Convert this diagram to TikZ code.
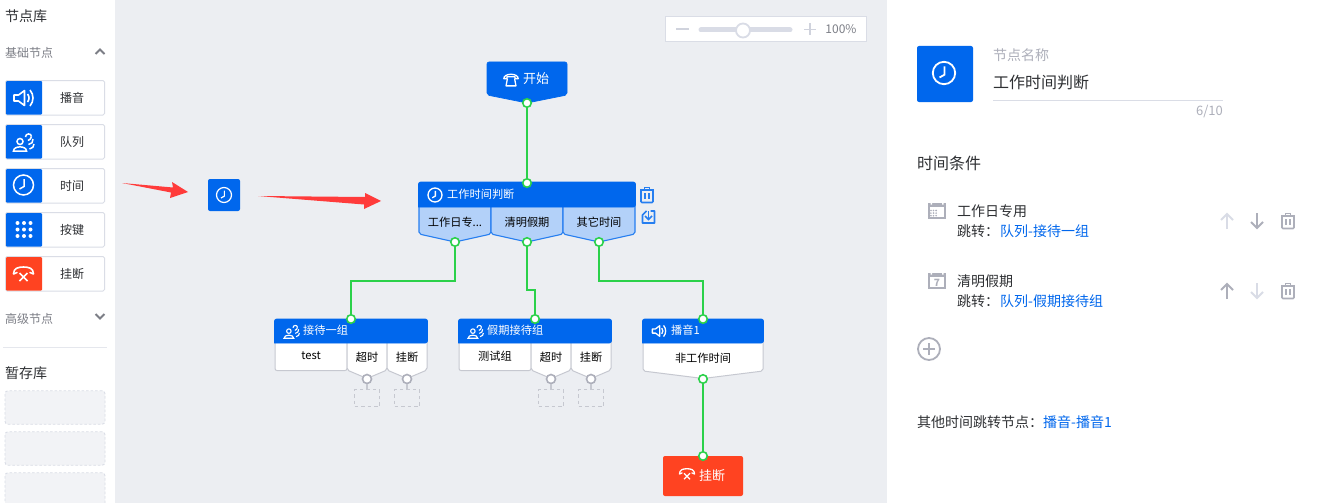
\documentclass[tikz,border=0pt]{standalone}
\usepackage{fontspec}
\setmainfont{Noto Sans CJK SC}
\definecolor{blue1}{HTML}{0067ED}
\definecolor{red1}{HTML}{FF4321}
\definecolor{red2}{HTML}{FF3B3B}
\definecolor{green1}{HTML}{2BD14A}
\definecolor{canvas}{HTML}{ECEEF2}
\definecolor{sect}{HTML}{B3D1F9}
\definecolor{edge1}{HTML}{DADDE6}
\definecolor{edge2}{HTML}{C6C8D0}
\definecolor{icon1}{HTML}{ADAFBA}
\definecolor{icon2}{HTML}{D9DCE6}
\definecolor{txt}{HTML}{2E3033}
\definecolor{txt2}{HTML}{7C7E86}
\tikzset{
	fs/.style = {font=\fontsize{#1}{#1}\selectfont},
	lbl/.style = {inner sep=0pt, text=txt},
	left lbl/.style = {lbl, anchor=west},
	wire/.style = {draw=green1, line width=2pt},
	dot/.style = {draw=green1, fill=white, circle, line width=1.6pt, minimum size=8.5pt, inner sep=0pt},
	greydot/.style = {draw=icon1, fill=white, circle, line width=1.6pt, minimum size=9pt, inner sep=0pt},
	stub/.style = {draw=edge2, line width=1.5pt},
	slot/.style = {draw=edge2, dash pattern=on 3.5pt off 3pt, line width=1.3pt, minimum width=25pt, minimum height=17pt, inner sep=0pt},
	shell/.style = {draw=edge2, fill=white, line width=1pt, rounded corners=2pt},
	section/.style = {draw=blue1!85!white, fill=sect, line width=1.1pt, rounded corners=2pt},
	head/.style = {draw=blue1, fill=blue1, line width=.6pt},
	btn/.style = {draw=edge1, fill=white, line width=1pt, rounded corners=1.5pt},
	store/.style = {draw=edge1, fill=canvas!70!white, dash pattern=on 2.5pt off 2pt, line width=.9pt, rounded corners=3pt, minimum width=100pt, minimum height=33.5pt, inner sep=0pt},
	pointer/.style = {fill=red2},
	clockicon/.pic = {
		\draw (0,0) circle (10);
		\draw (0.5,-6) -- (0.5,1.5) -- (-4,4);
	},
	speakericon/.pic = {
		\draw[line join=round] (-9.5,-3) -- (-5,-3) -- (1,-7.5) -- (1,7.5) -- (-5,3) -- (-9.5,3) -- cycle;
		\draw (4,-4) .. controls (6,-2) and (6,2) .. (4,4);
		\draw (6.5,-8) .. controls (10.5,-3) and (10.5,3) .. (6.5,8);
	},
	peopleicon/.pic = {
		\draw (-3.5,-.5) circle (3);
		\draw (-10,9) .. controls (-10,3.5) and (3,3.5) .. (3,9) -- cycle;
		\draw (2,-5) .. controls (2,-9) and (8,-9) .. (8,-5.5);
		\draw (4.5,-1.5) .. controls (6.5,-2) and (7.5,-3.5) .. (8,-5.5);
		\draw (5,2.5) .. controls (8,2) and (10,0) .. (9.5,-3);
		\draw (6,7) .. controls (9,6) and (10.5,5) .. (10.5,2);
	},
	phoneicon/.pic = {
		\draw[line join=round] (-8,-1.5) .. controls (-8,-8) and (8,-8) .. (8,-1.5) -- (4.5,-1.5) -- (4.5,-3.5) -- (-4.5,-3.5) -- (-4.5,-1.5) -- cycle;
		\draw[line join=round] (-4,-1.5) -- (-5.5,6.5) -- (5.5,6.5) -- (4,-1.5);
	},
	hangicon/.pic = {
		\draw[line join=round] (-10,0) .. controls (-10,-6) and (-5,-7) .. (0,-7) .. controls (5,-7) and (10,-6) .. (10,0);
		\draw[line cap=round] (-10,0) -- (-6.5,-1.5) (10,0) -- (6.5,-1.5);
		\draw (-4,-1) -- (4,7) (-4,7) -- (4,-1);
	},
	trashicon/.pic = {
		\draw (-7,-5) -- (7,-5);
		\draw (-2.5,-5) -- (-2.5,-7.5) -- (2.5,-7.5) -- (2.5,-5);
		\draw[rounded corners=1pt] (-6,-5) -- (-6,7.5) -- (6,7.5) -- (6,-5);
		\draw (-2,-2) -- (-2,4) (2,-2) -- (2,4);
	},
	backicon/.pic = {
		\draw[line join=round] (-2,-6) -- (-6,-2) -- (-6,6) -- (6,6) -- (6,-6) -- (2,-6);
		\draw (0,-6) -- (0,2);
		\draw (-3.5,-1) -- (0,2.5) -- (3.5,-1);
	},
	upicon/.pic = {
		\draw (0,8) -- (0,-7);
		\draw (-6,-1) -- (0,-7) -- (6,-1);
	},
	downicon/.pic = {
		\draw (0,-8) -- (0,7);
		\draw (-6,1) -- (0,7) -- (6,1);
	},
	calicon/.pic = {
		\draw (-8,-6.5) rectangle (8,7);
		\fill (-9,-8) rectangle (9,-4.5);
		\fill[white] (-6.5,-8) rectangle (-5,-6.5) (5,-8) rectangle (6.5,-6.5);
	},
}
\begin{document}
\begin{tikzpicture}[x=1pt, y=-1pt]
	\useasboundingbox (0,0) rectangle (1317,503);
	\fill[white] (0,0) rectangle (1317,503);
	\fill[canvas] (115,0) rectangle (887,503);

	% node library
	\node[left lbl, fs=14] (libtitle) at (5,16) {节点库};
	\node[left lbl, fs=12, text=txt2] (basic) at (5,53) {基础节点};
	\draw[txt2, line width=2pt] (95.5,54) -- (100,49.5) -- (104.5,54);
	\foreach \y/\name/\col in {80.5/播音/blue1, 124.5/队列/blue1, 168.5/时间/blue1, 212.5/按键/blue1, 256.5/挂断/red1} {
		\draw[btn] (5.5,\y) rectangle (104.5,\y+34.5);
		\fill[\col, rounded corners=1pt] (6,\y+.5) rectangle (42,\y+34);
		\node[lbl, fs=12] (btn\name) at (72,\y+17) {\name};
	}
	\pic[white, line width=1.6pt] at (23.5,98) {speakericon};
	\pic[white, line width=1.5pt] at (23.5,142) {peopleicon};
	\pic[white, line width=1.5pt] at (23.5,185) {clockicon};
	\foreach \i in {-1,0,1} \foreach \j in {-1,0,1}
		\fill[white] (24+\i*6.5,229.5+\j*6.5) circle (2);
	\pic[white, line width=1.6pt] at (23.5,274) {hangicon};
	\node[left lbl, fs=12, text=txt2] (advanced) at (5,319) {高级节点};
	\draw[txt2, line width=2pt] (95.5,314) -- (100,318.5) -- (104.5,314);
	\draw[edge1!70!white, line width=1pt] (3,347.5) -- (107,347.5);
	\node[left lbl, fs=14] (storetitle) at (5,373) {暂存库};
	\node[store] (store1) at (55,407.5) {};
	\node[store] (store2) at (55,448.5) {};
	\node[store] (store3) at (55,489.5) {};

	% red pointers
	\fill[pointer] (122,183) -- (173,187.5) -- (172,182) -- (188,192) -- (170,198) -- (171,192.5) -- cycle;
	\fill[blue1, rounded corners=2pt] (208,179) rectangle (240,211);
	\pic[white, line width=1.2pt, scale=.75] at (224,195) {clockicon};
	\fill[pointer] (258,196) -- (365,197) -- (365,193) -- (381,201) -- (364,209) -- (364,204.5) -- cycle;

	% zoom bar
	\draw[edge1, fill=white, line width=.9pt] (665.5,16.5) rectangle (866.5,41.5);
	\draw[icon2!80!icon1, line width=2pt] (676,29) -- (689,29);
	\draw[icon2, line width=5pt, line cap=round] (701,30) -- (790,30);
	\node[circle, draw=icon2, fill=white, line width=1.8pt, minimum size=14pt, inner sep=0pt] (knob) at (743,30.5) {};
	\draw[icon2!80!icon1, line width=1.8pt] (804,29.5) -- (816,29.5) (810,23.5) -- (810,35.5);
	\node[lbl, fs=12, text=txt2] (zoomval) at (841,29) {100\%};

	% start
	\draw[head, rounded corners=2pt] (487,62) -- (567,62) -- (567,95) -- (527,103) -- (487,95) -- cycle;
	\pic[white, line width=1.3pt, scale=.9] at (511,80) {phoneicon};
	\node[lbl, fs=13, text=white] (start) at (536,79) {开始};

	% time check
	\draw[section] (419,204) -- (419,234) -- (455,242) -- (491,234) -- (491,204) -- cycle;
	\draw[section] (491,204) -- (491,234) -- (527,242) -- (563,234) -- (563,204) -- cycle;
	\draw[section] (563,204) -- (563,234) -- (599,242) -- (635,234) -- (635,204) -- cycle;
	\draw[head, rounded corners=2pt] (418.5,207) -- (418.5,182) -- (635.5,182) -- (635.5,207) [sharp corners] -- cycle;
	\pic[white, line width=1.3pt, scale=.7] at (435,195) {clockicon};
	\node[left lbl, fs=11.2, text=white] (timehead) at (447,194.5) {工作时间判断};
	\node[lbl, fs=11.2, text=black] (tsec1) at (455,222) {工作日专...};
	\node[lbl, fs=11.2, text=black] (tsec2) at (527,222) {清明假期};
	\node[lbl, fs=11.2, text=black] (tsec3) at (599,222) {其它时间};
	\pic[blue1!85!white, line width=1.6pt] at (647,195) {trashicon};
	\pic[blue1!85!white, line width=1.6pt] at (648.5,217) {backicon};

	% group one
	\draw[shell] (275,335) rectangle (347,370.5);
	\draw[shell] (347,335) -- (347,370) -- (367,378.5) -- (387,370) -- (387,335) -- cycle;
	\draw[shell] (387,335) -- (387,370) -- (407,378.5) -- (427,370) -- (427,335) -- cycle;
	\draw[head, rounded corners=2pt] (274.5,343) -- (274.5,319) -- (427.5,319) -- (427.5,343) [sharp corners] -- cycle;
	\pic[white, line width=1.1pt, scale=.75] at (291.5,331.5) {peopleicon};
	\node[left lbl, fs=11.2, text=white] (g1head) at (303,330.5) {接待一组};
	\node[lbl, fs=11.2, text=black] (g1a) at (311,356) {test};
	\node[lbl, fs=11.2, text=black] (g1b) at (367,357.5) {超时};
	\node[lbl, fs=11.2, text=black] (g1c) at (407,357.5) {挂断};
	\node[slot] (slot1) at (367,398) {};
	\node[slot] (slot2) at (407,398) {};

	% group two
	\draw[shell] (459,335) rectangle (531,370.5);
	\draw[shell] (531,335) -- (531,370) -- (551,378.5) -- (571,370) -- (571,335) -- cycle;
	\draw[shell] (571,335) -- (571,370) -- (591,378.5) -- (611,370) -- (611,335) -- cycle;
	\draw[head, rounded corners=2pt] (458.5,343) -- (458.5,319) -- (611.5,319) -- (611.5,343) [sharp corners] -- cycle;
	\pic[white, line width=1.1pt, scale=.75] at (475.5,331.5) {peopleicon};
	\node[left lbl, fs=11.2, text=white] (g2head) at (487,330.5) {假期接待组};
	\node[lbl, fs=11.2, text=black] (g2a) at (495,356) {测试组};
	\node[lbl, fs=11.2, text=black] (g2b) at (551,357.5) {超时};
	\node[lbl, fs=11.2, text=black] (g2c) at (591,357.5) {挂断};
	\node[slot] (slot3) at (551,398) {};
	\node[slot] (slot4) at (591,398) {};

	% play
	\draw[shell] (643,335) -- (643,371) -- (703,378.5) -- (763,371) -- (763,335) -- cycle;
	\draw[head, rounded corners=2pt] (642.5,343) -- (642.5,319) -- (763.5,319) -- (763.5,343) [sharp corners] -- cycle;
	\pic[white, line width=1.3pt, scale=.7] at (659,331) {speakericon};
	\node[left lbl, fs=11.2, text=white] (playhead) at (671,330.5) {播音1};
	\node[lbl, fs=11.2, text=black] (playa) at (703,358) {非工作时间};

	% hang up
	\fill[red1, rounded corners=2pt] (663,456) rectangle (743,496);
	\pic[white, line width=1.3pt, scale=.75] at (687,474) {hangicon};
	\node[lbl, fs=13, text=white] (hang) at (712,475.5) {挂断};

	% connectors
	\node[dot] (startout) at (527,103) {};
	\node[dot] (timein) at (527,183) {};
	\node[dot] (tout1) at (455,242) {};
	\node[dot] (tout2) at (527,242) {};
	\node[dot] (tout3) at (599,242) {};
	\node[dot] (g1in) at (351,319) {};
	\node[dot] (g2in) at (535,319) {};
	\node[dot] (playin) at (703,319) {};
	\node[dot] (playout) at (703,379) {};
	\node[dot] (hangin) at (703,456) {};
	\node[greydot] (g1outb) at (367,379) {};
	\node[greydot] (g1outc) at (407,379) {};
	\node[greydot] (g2outb) at (551,379) {};
	\node[greydot] (g2outc) at (591,379) {};
	\draw[wire] (startout) -- (timein);
	\draw[wire] (tout1) -- (455,281) -| (g1in);
	\draw[wire] (tout2) -- (527,290) -| (g2in);
	\draw[wire] (tout3) -- (599,281) -| (playin);
	\draw[wire] (playout) -- (hangin);
	\draw[stub] (g1outb) -- (slot1);
	\draw[stub] (g1outc) -- (slot2);
	\draw[stub] (g2outb) -- (slot3);
	\draw[stub] (g2outc) -- (slot4);

	% properties panel
	\fill[blue1, rounded corners=2pt] (917,46) rectangle (973,102);
	\pic[white, line width=1.8pt, scale=1.12] at (944,73) {clockicon};
	\node[left lbl, fs=14, text=icon1] (namecap) at (993,55) {节点名称};
	\node[left lbl, fs=16] (nameval) at (993,82) {工作时间判断};
	\draw[edge1, line width=.9pt] (993,100.5) -- (1223,100.5);
	\node[lbl, fs=13, text=icon1, anchor=east] (count) at (1223,112) {6/10};
	\node[left lbl, fs=16] (cond) at (917,163) {时间条件};

	\pic[icon1, fill=icon1, line width=1.5pt] at (937,211) {calicon};
	\foreach \i in {-1,0,1} \foreach \j in {0,1,2}
		\fill[icon1] (933+\i*2.6+.5,211+\j*2.6-.5) circle (.9);
	\node[left lbl, fs=14] (cond1) at (957,211) {工作日专用};
	\node[left lbl, fs=14] (jump1) at (957,231) {跳转：};
	\node[left lbl, fs=14, text=blue1] (link1) at (1000,231) {队列-接待一组};
	\pic[icon2, line width=2pt] at (1227,221) {upicon};
	\pic[icon1, line width=2pt] at (1257,221) {downicon};
	\pic[icon1, line width=1.6pt] at (1288,221) {trashicon};

	\pic[icon1, fill=icon1, line width=1.5pt] at (937,281) {calicon};
	\node[lbl, fs=10, text=icon1, font=\fontsize{10}{10}\bfseries] (calnum) at (937,283) {7};
	\node[left lbl, fs=14] (cond2) at (957,281) {清明假期};
	\node[left lbl, fs=14] (jump2) at (957,301) {跳转：};
	\node[left lbl, fs=14, text=blue1] (link2) at (1000,301) {队列-假期接待组};
	\pic[icon1, line width=2pt] at (1227,291) {upicon};
	\pic[icon2, line width=2pt] at (1257,291) {downicon};
	\pic[icon1, line width=1.6pt] at (1288,291) {trashicon};

	\node[circle, draw=icon1, line width=1.8pt, minimum size=22pt, inner sep=0pt] (addcond) at (929,349) {};
	\draw[icon1, line width=1.8pt] (923,349) -- (935,349) (929,343) -- (929,355);
	\node[left lbl, fs=14] (other) at (917,422) {其他时间跳转节点：};
	\node[left lbl, fs=14, text=blue1] (otherlink) at (1043,422) {播音-播音1};
\end{tikzpicture}
\end{document}
